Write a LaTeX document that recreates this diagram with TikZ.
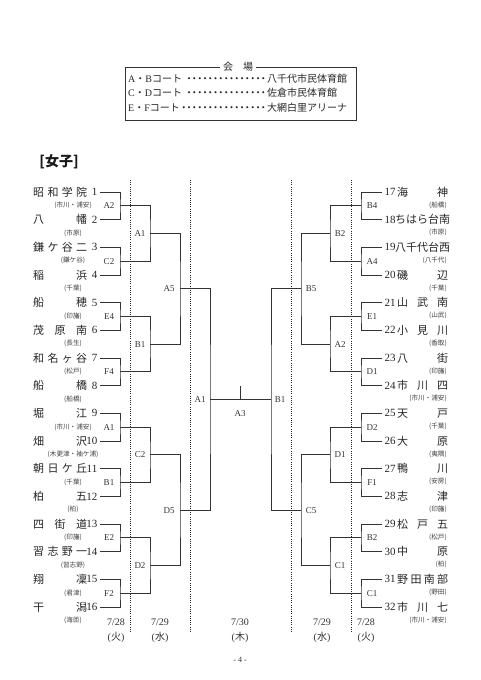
\documentclass[tikz,border=0pt]{standalone}
\usepackage{fontspec}
\setmainfont{Liberation Serif}
\newfontfamily\cjk{Noto Sans CJK JP}
\usetikzlibrary{calc}
\newcommand\myleader{\leaders\hbox to 5.3pt{\hss{\cjk ・}\hss}\hfill}
\tikzset{
  br/.style={line width=0.9pt, draw=black!80},
  dotline/.style={line width=0.9pt, draw=black!85, dash pattern=on 1pt off 1.2pt},
  lab/.style={font=\fontsize{9}{9}\selectfont, inner sep=0pt, text=black!80},
  tname/.style={font=\fontsize{11}{11}\cjk, inner sep=0pt, text=black!85},
  tnum/.style={font=\fontsize{11}{11}\selectfont, inner sep=0pt, text=black!85},
  tsub/.style={font=\fontsize{6.6}{6.6}\cjk, inner sep=0pt, text=black!75},
  datel/.style={font=\fontsize{10}{10}\selectfont, inner sep=0pt, text=black!80},
  vtext/.style={font=\fontsize{10}{10}\selectfont, inner sep=0pt, text=black!85},
}
\newcommand\Lteam[3]{%
  \pgfmathsetmacro\myty{192+(#1-1)*27.67}
  \node[tname,anchor=west] (Ln#1) at (33,\myty) {\makebox[54pt]{#2}};
  \node[tnum,anchor=east] (Lk#1) at (97.5,\myty) {#1};
  \node[tsub] (Ls#1) at (73,\myty+13.5) {(#3)};
  \coordinate (L0-#1) at (100,\myty);
}
\newcommand\Rteam[4]{%
  \pgfmathsetmacro\myty{192+(#1-1)*27.67}
  \node[tnum,anchor=west] (Rk#1) at (384.5,\myty) {#2};
  \node[tname,anchor=west] (Rn#1) at (397,\myty) {\makebox[51pt]{#3}};
  \node[tsub,anchor=east] (Rs#1) at (447,\myty+13) {(#4)};
  \coordinate (R0-#1) at (382,\myty);
}
\begin{document}
\begin{tikzpicture}[x=1pt,y=-1pt]
\fill[white] (0,0) rectangle (481,680);
\useasboundingbox (0,0) rectangle (481,680);

% venue box
\draw[line width=1pt, draw=black!80] (125,67) rectangle (356,120);
\node[font=\fontsize{10}{10}\cjk, fill=white, inner sep=3pt, text=black!85] (vtitle) at (238,67) {会　場};
\node[vtext,anchor=west] (v1) at (128,78.5) {\hbox to 139pt{A{\cjk ・}B{\cjk コート}\myleader}{\cjk 八千代市民体育館}};
\node[vtext,anchor=west] (v2) at (128,93) {\hbox to 139pt{C{\cjk ・}D{\cjk コート}\myleader}{\cjk 佐倉市民体育館}};
\node[vtext,anchor=west] (v3) at (128,107.5) {\hbox to 139pt{E{\cjk ・}F{\cjk コート}\myleader}{\cjk 大網白里アリーナ}};

% title
\node[font=\fontsize{14}{14}\cjk\bfseries, inner sep=0pt, text=black!90] (title) at (59,162) {[女子]};

% left teams
\Lteam{1}{昭\hfill 和\hfill 学\hfill 院}{市川・浦安}
\Lteam{2}{八\hfill 幡}{市原}
\Lteam{3}{鎌\hfill ケ\hfill 谷\hfill 二}{鎌ケ谷}
\Lteam{4}{稲\hfill 浜}{千葉}
\Lteam{5}{船\hfill 穂}{印旛}
\Lteam{6}{茂\hfill 原\hfill 南}{長生}
\Lteam{7}{和\hfill 名\hfill ヶ\hfill 谷}{松戸}
\Lteam{8}{船\hfill 橋}{船橋}
\Lteam{9}{堀\hfill 江}{市川・浦安}
\Lteam{10}{畑\hfill 沢}{木更津・袖ケ浦}
\Lteam{11}{朝\hfill 日\hfill ケ\hfill 丘}{千葉}
\Lteam{12}{柏\hfill 五}{柏}
\Lteam{13}{四\hfill 街\hfill 道}{印旛}
\Lteam{14}{習\hfill 志\hfill 野\hfill 一}{習志野}
\Lteam{15}{翔\hfill 凜}{君津}
\Lteam{16}{干\hfill 潟}{海匝}

% right teams
\Rteam{1}{17}{海\hfill 神}{船橋}
\Rteam{2}{18}{ち\hfill は\hfill ら\hfill 台\hfill 南}{市原}
\Rteam{3}{19}{八\hfill 千\hfill 代\hfill 台\hfill 西}{八千代}
\Rteam{4}{20}{磯\hfill 辺}{千葉}
\Rteam{5}{21}{山\hfill 武\hfill 南}{山武}
\Rteam{6}{22}{小\hfill 見\hfill 川}{香取}
\Rteam{7}{23}{八\hfill 街}{印旛}
\Rteam{8}{24}{市\hfill 川\hfill 四}{市川・浦安}
\Rteam{9}{25}{天\hfill 戸}{千葉}
\Rteam{10}{26}{大\hfill 原}{夷隅}
\Rteam{11}{27}{鴨\hfill 川}{安房}
\Rteam{12}{28}{志\hfill 津}{印旛}
\Rteam{13}{29}{松\hfill 戸\hfill 五}{松戸}
\Rteam{14}{30}{中\hfill 原}{柏}
\Rteam{15}{31}{野\hfill 田\hfill 南\hfill 部}{野田}
\Rteam{16}{32}{市\hfill 川\hfill 七}{市川・浦安}

% brackets
\foreach \r/\lx/\rx/\n in {1/120/361/8, 2/150/330/4, 3/180/301/2, 4/210/271/1} {
  \foreach \i in {1,...,\n} {
    \pgfmathsetmacro\yy{192+((\i-1)*2^\r+(2^\r-1)/2)*27.67}
    \pgfmathtruncatemacro\p{\r-1}
    \pgfmathtruncatemacro\a{2*\i-1}
    \pgfmathtruncatemacro\b{2*\i}
    \coordinate (L\r-\i) at (\lx,\yy);
    \coordinate (R\r-\i) at (\rx,\yy);
    \draw[br] (L\p-\a) -| (L\r-\i) |- (L\p-\b);
    \draw[br] (R\p-\a) -| (R\r-\i) |- (R\p-\b);
  }
}
\draw[br] (L4-1) -- (R4-1);
\coordinate (tk) at (240,386);
\draw[br] (tk) -- (tk |- L4-1);
\node[lab] (fin) at (240,414) {A3};

% match labels
\foreach \t [count=\i] in {A2,C2,E4,F4,A1,B1,E2,F2}
  \node[lab] (la1-\i) at ([xshift=-11pt]L1-\i) {\t};
\foreach \t [count=\i] in {A1,B1,C2,D2}
  \node[lab] (la2-\i) at ([xshift=-10pt]L2-\i) {\t};
\foreach \t [count=\i] in {A5,D5}
  \node[lab] (la3-\i) at ([xshift=-11pt]L3-\i) {\t};
\node[lab] (la4-1) at ([xshift=-10pt]L4-1) {A1};
\foreach \t [count=\i] in {B4,A4,E1,D1,D2,F1,B2,C1}
  \node[lab] (ra1-\i) at ([xshift=11pt]R1-\i) {\t};
\foreach \t [count=\i] in {B2,A2,D1,C1}
  \node[lab] (ra2-\i) at ([xshift=10pt]R2-\i) {\t};
\foreach \t [count=\i] in {B5,C5}
  \node[lab] (ra3-\i) at ([xshift=10pt]R3-\i) {\t};
\node[lab] (ra4-1) at ([xshift=9pt]R4-1) {B1};

% dotted day separators
\foreach \x [count=\i] in {130,190,291,351} {
  \coordinate (dt\i) at (\x,180);
  \coordinate (db\i) at (\x,633);
  \draw[dotline] (dt\i) -- (db\i);
}

% dates
\foreach \x/\d/\w [count=\i] in {116/7\slash 28/火, 160/7\slash 29/水, 240/7\slash 30/木, 322/7\slash 29/水, 366/7\slash 28/火} {
  \node[datel] (dd\i) at (\x,622) {\d};
  \node[datel] (dw\i) at (\x,637) {({\cjk\w})};
}

% page number
\node[font=\fontsize{8}{8}\selectfont, inner sep=0pt, text=black!80] (pg) at (240,660) {- 4 -};
\end{tikzpicture}
\end{document}
